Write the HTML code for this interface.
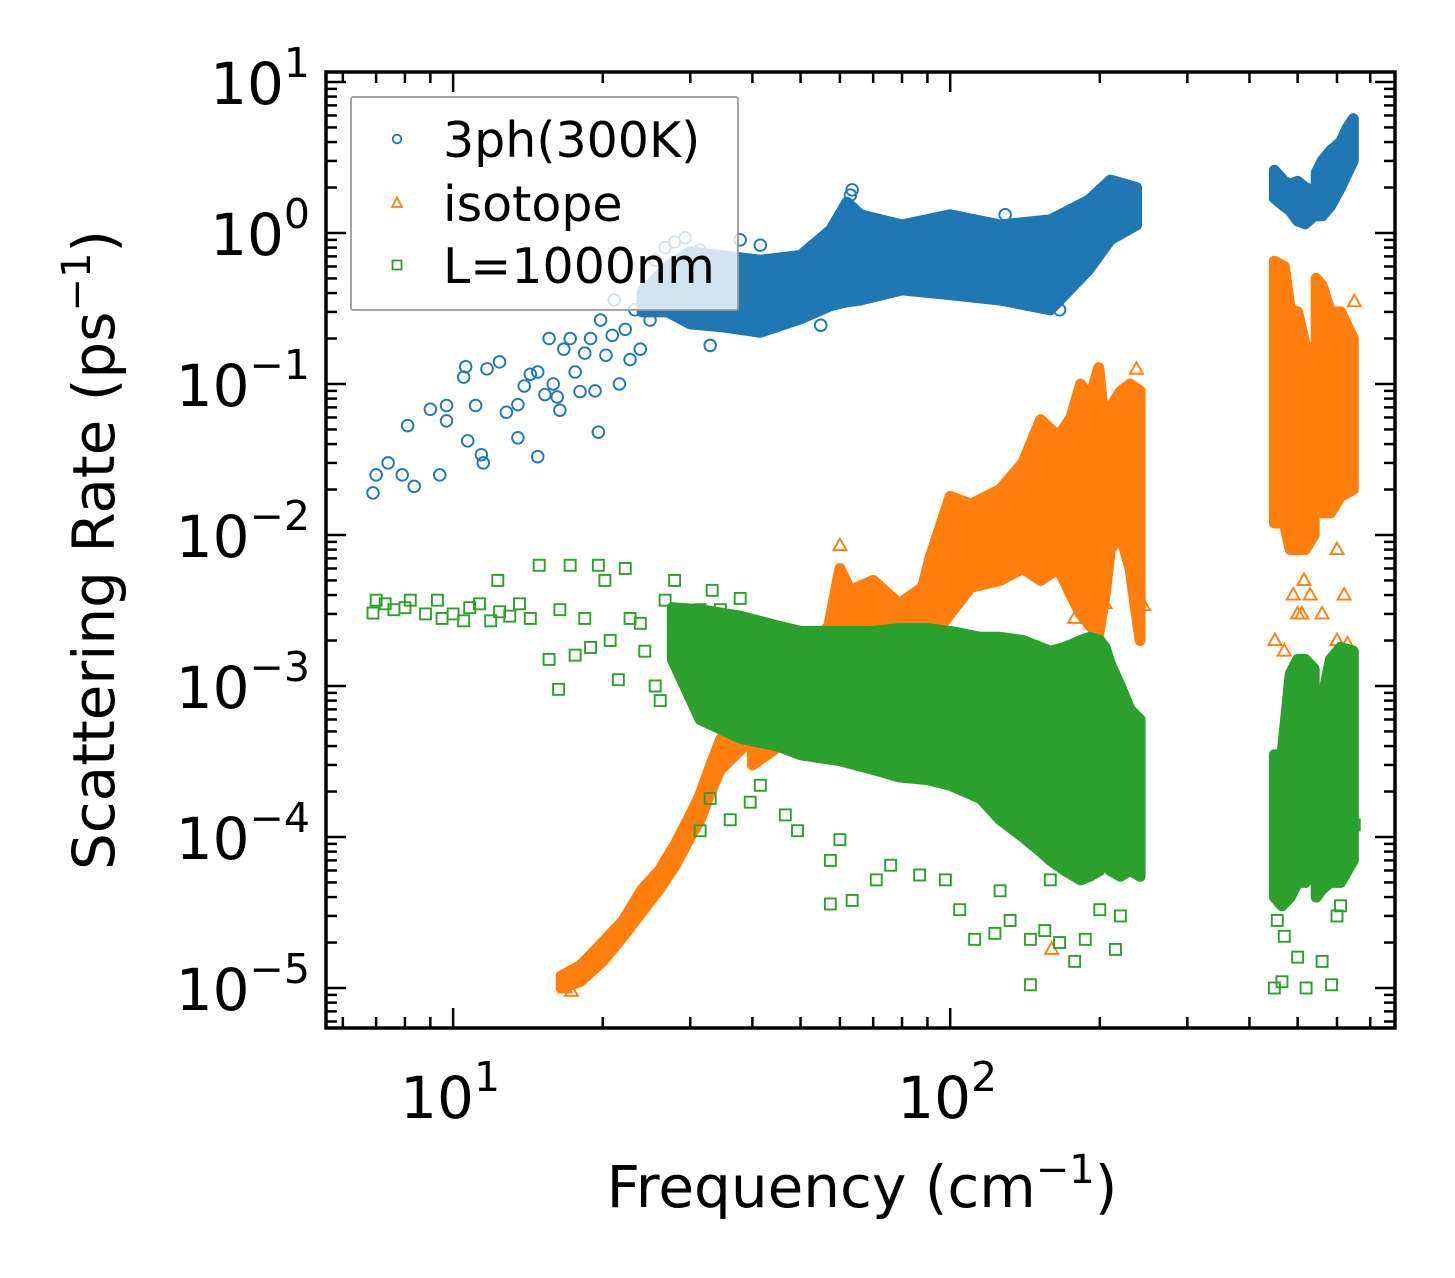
<!DOCTYPE html>
<html><head><meta charset="utf-8"><style>
html,body{margin:0;padding:0;background:#fff;}
svg{display:block;font-family:"DejaVu Sans","Liberation Sans",sans-serif;}
</style></head><body>
<svg id="chart" width="1455" height="1278" viewBox="0 0 1455 1278" xmlns="http://www.w3.org/2000/svg"></svg>
<script>
// ---------- data ----------
const blueF = [6.9,7.0,7.4,7.9,8.1,8.35,9.0,9.4,9.7,9.7,10.5,10.6,10.7,11.1,11.4,11.5,11.7,12.4,12.8,13.5,13.5,13.9,14.3,14.8,14.8,15.3,15.6,15.9,16.2,16.4,16.7,17.2,17.6,18.0,18.4,18.9,19.3,19.6,19.8,20.3,20.9,21.1,21.6,22.2,22.7,23.2,23.8,24.3,24.9,25.5,26.0,26.7,27.3,27.9,28.6,29.3,30.0,31.4,32.9,37.8,41.5,54.9,63,63.5,129,166];
const blueV = [0.019,0.025,0.030,0.025,0.053,0.021,0.068,0.025,0.072,0.057,0.111,0.13,0.042,0.072,0.034,0.030,0.126,0.14,0.065,0.044,0.073,0.097,0.116,0.033,0.12,0.085,0.2,0.1,0.082,0.067,0.17,0.2,0.12,0.089,0.16,0.2,0.09,0.048,0.265,0.155,0.21,0.36,0.1,0.23,0.145,0.31,0.17,0.42,0.265,0.66,0.36,0.8,0.53,0.87,0.66,0.93,0.42,0.77,0.18,0.9,0.83,0.245,1.78,1.93,1.32,0.31];
const blueBandF  = [24, 27, 30, 34.5, 41.5, 50, 57.5, 62, 66, 80, 100, 126, 159, 190, 210, 237];
const blueBandLo = [0.3, 0.3, 0.25, 0.24, 0.22, 0.27, 0.33, 0.35, 0.36, 0.42, 0.39, 0.36, 0.31, 0.57, 0.9, 1.13];
const blueBandHi = [0.4, 0.6, 0.75, 0.71, 0.66, 0.71, 1.05, 1.6, 1.32, 1.13, 1.32, 1.13, 1.22, 1.65, 2.24, 2.0];
const blueR1F = [449,470,483,500,518,540];
const blueR1Lo = [1.7,1.5,1.4,1.2,1.15,1.3];
const blueR1Hi = [2.6,2.2,2.1,2.2,2.0,1.9];
const blueR2F = [545,560,582,610,630,647];
const blueR2Lo = [1.3,1.3,1.5,2.0,2.5,3.0];
const blueR2Hi = [2.5,3.0,3.5,4.0,5.0,5.7];

const orangeCurveF  = [16.5, 18, 20, 22, 24, 26, 28, 30, 31.4, 33, 34.5, 37, 40];
const orangeCurveLo = [1.0e-5,1.1e-5,1.5e-5,2.2e-5,3.2e-5,4.5e-5,6.5e-5,1.0e-4,1.3e-4,2.0e-4,2.8e-4,3.5e-4,4.5e-4];
const orangeCurveHi = [1.2e-5,1.4e-5,2.0e-5,2.8e-5,4.5e-5,6e-5,9e-5,1.4e-4,1.9e-4,3.0e-4,4.4e-4,6e-4,8e-4];
const orangeBandF  = [40, 50, 57, 60, 63, 70, 79, 88, 91, 100, 110, 126, 140, 152, 165, 175, 183, 191, 199, 205, 210, 220, 230, 241];
const orangeBandHi = [8e-4,1.5e-3,2.5e-3,6e-3,4.3e-3,5e-3,3.5e-3,4.5e-3,7e-3,1.8e-2,1.6e-2,2e-2,3e-2,5.8e-2,4.5e-2,6e-2,0.1,0.08,0.128,0.05,0.07,0.089,0.1,0.09];
const orangeBandLo = [3e-4,5e-4,1e-3,1.5e-3,1.5e-3,1.5e-3,1.6e-3,1.6e-3,2e-3,3e-3,4.5e-3,5e-3,6e-3,5e-3,6e-3,4e-3,3e-3,2.5e-3,2.2e-3,4e-3,8e-3,1e-2,6e-3,2e-3];
const orangeR1F = [449,470,483,500,518,540];
const orangeR1Hi = [0.65,0.6,0.31,0.3,0.18,0.15];
const orangeR1Lo = [0.012,0.012,0.008,0.008,0.008,0.01];
const orangeR2F = [545,560,582,610,647];
const orangeR2Hi = [0.5,0.45,0.3,0.3,0.2];
const orangeR2Lo = [0.015,0.014,0.014,0.018,0.02];
const orangeF = [450,470,500,510,490,530,560,600,630,620,650,600,515,237,245,205,178,183,190,160,180,60,16.8,17.3];
const orangeV = [0.002,0.0017,0.003,0.003,0.004,0.004,0.003,0.002,0.0019,0.004,0.35,0.008,0.005,0.125,0.0034,0.0035,0.0028,0.0048,0.0019,1.8e-5,1.8e-4,0.0085,1.0e-5,9.5e-6];

const greenF = [6.9,7.0,7.3,7.6,8.0,8.2,8.8,9.3,9.5,10,10.5,10.8,11.3,11.9,12.3,12.4,13.0,13.6,14.3,14.9,15.6,16.3,16.4,17.2,17.6,18.4,18.9,19.6,20.2,20.7,21.5,22.2,22.7,23.8,24.3,25.5,26.1,26.7,27.9,28.6,30,31.4,33.2,34.5,37.8,
  31.4,32.9,36.1,39.6,41.5,46.6,49.3,57.4,57.4,63.5,60,71,75.9,86.8,97.8,104.5,112,123,132,145,155,166,178,187,145,126,200,215,220,159,
  449,465,500,520,585,560,470,455,600,640,650,610];
const greenV = [0.00304,0.0037,0.0035,0.0032,0.0033,0.0037,0.003,0.0037,0.0028,0.003,0.0027,0.0033,0.0035,0.0027,0.005,0.0031,0.0029,0.0035,0.0028,0.0063,0.0015,0.00095,0.0032,0.0063,0.0016,0.0028,0.0018,0.0063,0.005,0.002,0.0011,0.006,0.0028,0.0026,0.0017,0.001,0.0008,0.0037,0.005,0.002,0.0014,0.0032,0.0043,0.0032,0.0038,
  1.1e-4,1.8e-4,1.3e-4,1.7e-4,2.2e-4,1.4e-4,1.1e-4,7e-5,3.6e-5,3.8e-5,9.6e-5,5.2e-5,6.5e-5,5.6e-5,5.2e-5,3.3e-5,2.1e-5,2.3e-5,2.8e-5,2.1e-5,2.4e-5,2e-5,1.5e-5,2.1e-5,1.05e-5,4.4e-5,3.3e-5,1.8e-5,3e-5,5.2e-5,
  1e-5,1.1e-5,1.6e-5,1.0e-5,1.05e-5,1.5e-5,2.2e-5,2.8e-5,3e-5,7.5e-5,1.2e-4,3.5e-5];
const greenBandF  = [27.6, 31.4, 37.8, 45, 50, 60, 70, 79, 90, 100, 115, 126, 140, 152, 159, 170, 183, 191, 200, 205, 210, 220, 230, 241];
const greenBandHi = [3.3e-3,3.2e-3,2.9e-3,2.5e-3,2.3e-3,2.3e-3,2.3e-3,2.4e-3,2.4e-3,2.3e-3,2.1e-3,2.1e-3,2.0e-3,1.8e-3,1.7e-3,1.8e-3,2.0e-3,2.1e-3,2.0e-3,1.8e-3,1.4e-3,1.0e-3,7e-4,6e-4];
const greenBandLo = [1.5e-3,6e-4,4.5e-4,4e-4,3.5e-4,3.2e-4,2.8e-4,2.5e-4,2.4e-4,2.2e-4,1.8e-4,1.3e-4,1e-4,8e-5,7e-5,6e-5,5.2e-5,5.5e-5,6e-5,7e-5,6e-5,5.5e-5,6e-5,5.5e-5];
const greenR1F = [449,465,483,500,518,540];
const greenR1Hi = [3.5e-4,3.5e-4,1.2e-3,1.5e-3,1.5e-3,1.3e-3];
const greenR1Lo = [4e-5,3.5e-5,4e-5,5e-5,5e-5,6e-5];
const greenR2F = [545,560,582,610,647];
const greenR2Hi = [5e-4,8e-4,1.5e-3,1.8e-3,1.7e-3];
const greenR2Lo = [4e-5,4.5e-5,5e-5,5e-5,7e-5];

const xTickVals = [10, 100];
const yTickExps = [1, 0, -1, -2, -3, -4, -5];

// ---------- scales ----------
const L=326,R=1395,T=72,B=1028;
const xMinL=Math.log10(5.55), xMaxL=Math.log10(785);
const yMinL=-5.265, yMaxL=1.066;
function xs(f){return L+(Math.log10(f)-xMinL)/(xMaxL-xMinL)*(R-L);}
function ys(v){return B-(Math.log10(v)-yMinL)/(yMaxL-yMinL)*(B-T);}

const NS="http://www.w3.org/2000/svg";
const svg=document.getElementById('chart');
function el(tag,attrs,parent){const e=document.createElementNS(NS,tag);for(const k in attrs)e.setAttribute(k,attrs[k]);(parent||svg).appendChild(e);return e;}

const C1='#1f77b4',C2='#ff7f0e',C3='#2ca02c';

const clip=el('clipPath',{id:'pc'});el('rect',{x:L,y:T,width:R-L,height:B-T},clip);
const plot=el('g',{'clip-path':'url(#pc)'});



function band(F,Lo,Hi,color,name){
  let pts=[];
  for(let i=0;i<F.length;i++)pts.push(xs(F[i]).toFixed(1)+','+ys(Hi[i]).toFixed(1));
  for(let i=F.length-1;i>=0;i--)pts.push(xs(F[i]).toFixed(1)+','+ys(Lo[i]).toFixed(1));
  const p=el('polygon',{points:pts.join(' '),fill:color,stroke:color,'stroke-width':11,'stroke-linejoin':'round'},plot);
  
  
}
function circ(f,v){const c=el('circle',{cx:xs(f),cy:ys(v),r:5.8,fill:'none',stroke:C1,'stroke-width':1.9},plot);
  
  }
function tri(f,v){const x=xs(f),y=ys(v);const t=el('polygon',{points:`${x},${y-7} ${x-6.5},${y+4.5} ${x+6.5},${y+4.5}`,fill:'none',stroke:C2,'stroke-width':1.9},plot);
  
  }
function sq(f,v){const s=el('rect',{x:xs(f)-5.5,y:ys(v)-5.5,width:11,height:11,fill:'none',stroke:C3,'stroke-width':1.9},plot);
  
  }

band(blueBandF,blueBandLo,blueBandHi,C1,'band-3ph-main');
band(blueR1F,blueR1Lo,blueR1Hi,C1,'band-3ph-high-1');
band(blueR2F,blueR2Lo,blueR2Hi,C1,'band-3ph-high-2');
for(let i=0;i<blueF.length;i++)circ(blueF[i],blueV[i]);
band(orangeCurveF,orangeCurveLo,orangeCurveHi,C2,'band-isotope-low');
band(orangeBandF,orangeBandLo,orangeBandHi,C2,'band-isotope-main');
band(orangeR1F,orangeR1Lo,orangeR1Hi,C2,'band-isotope-high-1');
band(orangeR2F,orangeR2Lo,orangeR2Hi,C2,'band-isotope-high-2');
for(let i=0;i<orangeF.length;i++)tri(orangeF[i],orangeV[i]);
band(greenBandF,greenBandLo,greenBandHi,C3,'band-boundary-main');
band(greenR1F,greenR1Lo,greenR1Hi,C3,'band-boundary-high-1');
band(greenR2F,greenR2Lo,greenR2Hi,C3,'band-boundary-high-2');
for(let i=0;i<greenF.length;i++)sq(greenF[i],greenV[i]);

// ---------- ticks ----------
const ticks=el('g',{stroke:'#000','stroke-width':2.5});


for(let d=0;d<=2;d++){for(let m=1;m<=9;m++){const f=m*Math.pow(10,d);if(f<5.55||f>785)continue;const x=xs(f);const len=(m===1)?20:11;
  el('line',{x1:x,y1:B,x2:x,y2:B-len},ticks);el('line',{x1:x,y1:T,x2:x,y2:T+len},ticks);}}
for(let e=-6;e<=1;e++){for(let m=1;m<=9;m++){const v=m*Math.pow(10,e);const lv=Math.log10(v);if(lv<yMinL||lv>yMaxL)continue;const y=ys(v);const len=(m===1)?20:11;
  el('line',{x1:L,y1:y,x2:L+len,y2:y},ticks);el('line',{x1:R,y1:y,x2:R-len,y2:y},ticks);}}

const frame=el('rect',{x:L,y:T,width:R-L,height:B-T,fill:'none',stroke:'#000','stroke-width':3.5});



for(const v of xTickVals){
  const t=el('text',{x:xs(v)-3,y:1118,'font-size':58,'text-anchor':'middle',fill:'#000'});
  
  
  const a=el('tspan',{},t);a.textContent='10';
  const b=el('tspan',{dy:-27,'font-size':41},t);b.textContent=String(Math.round(Math.log10(v)));
}
for(const e of yTickExps){
  const y=ys(Math.pow(10,e))+22;
  const t=el('text',{x:310,y:y,'font-size':58,'text-anchor':'end',fill:'#000'});
  
  
  const a=el('tspan',{},t);a.textContent='10';
  const b=el('tspan',{dy:-27,'font-size':41},t);b.textContent=(e<0?'\u2212'+(-e):String(e));
}

const xt=el('text',{x:862,y:1207,'font-size':58,'text-anchor':'middle',fill:'#000'});


xt.innerHTML='Frequency (cm<tspan dy="-24" font-size="40">\u22121</tspan><tspan dy="24">)</tspan>';
const yt=el('text',{x:0,y:0,'font-size':58,'text-anchor':'middle',fill:'#000',transform:'translate(114,550) rotate(-90)'});


yt.innerHTML='Scattering Rate (ps<tspan dy="-24" font-size="40">\u22121</tspan><tspan dy="24">)</tspan>';

const lg=el('g',{});


el('rect',{x:351,y:97,width:387,height:213,rx:2,fill:'rgba(255,255,255,0.8)',stroke:'#999999','stroke-width':1.8},lg);
const rows=[['3ph(300K)',139],['isotope',203],['L=1000nm',265]];
rows.forEach((r,i)=>{
  const y=r[1];
  if(i===0){const m=el('circle',{cx:397,cy:y,r:4.3,fill:'none',stroke:C1,'stroke-width':1.8},lg);}
  if(i===1){const m=el('polygon',{points:`397,${y-5.5} 392,${y+4} 402,${y+4}`,fill:'none',stroke:C2,'stroke-width':1.8},lg);}
  if(i===2){const m=el('rect',{x:392.5,y:y-4.5,width:9,height:9,fill:'none',stroke:C3,'stroke-width':1.8},lg);}
  const t=el('text',{x:443,y:y+18,'font-size':49,fill:'#000'},lg);
  
  
  t.textContent=r[0];
});
</script>
</body></html>
